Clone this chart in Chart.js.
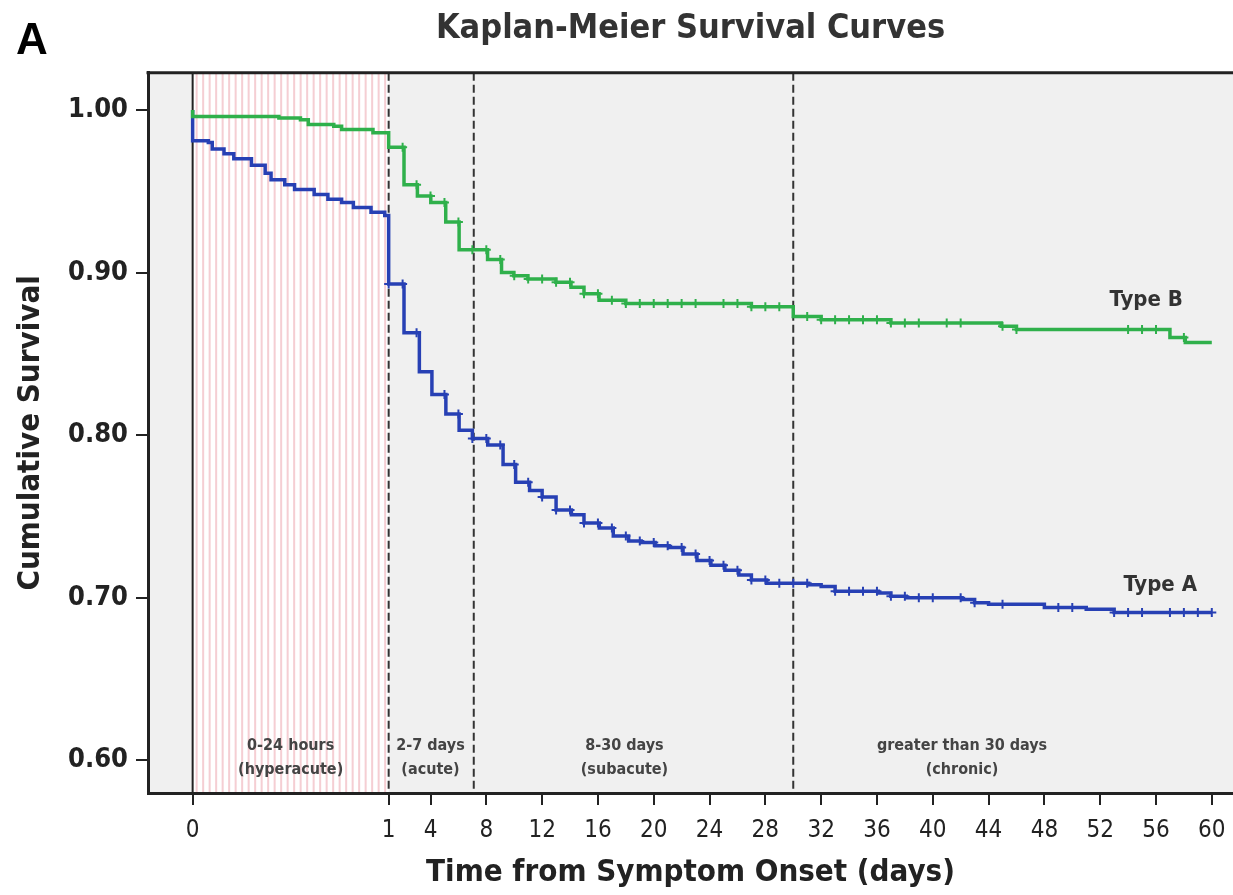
<!DOCTYPE html>
<html>
<head>
<meta charset="utf-8">
<title>Kaplan-Meier Survival Curves</title>
<script src="https://cdn.jsdelivr.net/npm/chart.js@4.4.0/dist/chart.umd.min.js"></script>
<style>
  html, body { margin: 0; padding: 0; background: #fff; }
  #wrap { width: 1233px; height: 895px; position: relative; }
</style>
</head>
<body>
<div id="wrap"><canvas id="kmChart"></canvas></div>
<script>
// Axis ticks
const tickDays = [0, 1, 4, 8, 12, 16, 20, 24, 28, 32, 36, 40, 44, 48, 52, 56, 60];
const yTicks = [0.60, 0.70, 0.80, 0.90, 1.00];

// Type B (green): step times in days and survival from that time on
const typeBTimes = [0, 0, 0.44, 0.55, 0.59, 0.72, 0.76, 0.92, 1.0,
    2.1, 3.06, 4.02, 5.09, 6.05, 8.09, 9.09, 9.97, 10.98, 12.99, 14.07, 15.0, 16.08, 18.0, 27.0,
    30.0, 32.0, 37.0, 44.9, 46.0, 57.0, 58.1, 60];
const typeBSurvival = [1.000, 0.996, 0.995, 0.994, 0.991, 0.990, 0.988, 0.986, 0.977,
    0.954, 0.947, 0.943, 0.931, 0.914, 0.908, 0.900, 0.898, 0.896, 0.894, 0.891, 0.887, 0.883, 0.881, 0.879,
    0.873, 0.871, 0.869, 0.867, 0.865, 0.860, 0.857, 0.857];
const typeBCensored = [2, 3, 4, 5, 6, 7, 8, 9, 10, 11, 12, 13, 14, 15, 16, 17, 18, 19, 20, 21, 22, 23,
    25, 26, 27, 28, 29, 31, 32, 33, 34, 35, 36, 37, 38, 39, 41, 42, 45, 46, 54, 55, 56, 58];

// Type A (blue)
const typeATimes = [0, 0, 0.08, 0.10, 0.16, 0.21, 0.30, 0.37, 0.40, 0.47, 0.52, 0.62, 0.69, 0.76, 0.82, 0.91, 0.98,
    1.0, 2.1, 3.2, 4.1, 5.1, 6.05, 7.0, 8.1, 9.2, 10.1, 11.1, 12.0, 13.0, 14.1, 15.0, 16.1, 17.1, 18.2,
    19.1, 20.1, 21.1, 22.1, 23.1, 24.1, 25.1, 26.1, 27.0, 28.1,
    31.1, 32.0, 33.0, 36.1, 37.0, 38.1, 42.1, 43.0, 44.0, 48.0, 51.0, 53.0, 60];
const typeASurvival = [1.000, 0.981, 0.980, 0.976, 0.973, 0.970, 0.966, 0.961, 0.957, 0.954, 0.951, 0.948, 0.945, 0.943, 0.940, 0.937, 0.935,
    0.893, 0.863, 0.839, 0.825, 0.813, 0.803, 0.798, 0.794, 0.782, 0.771, 0.766, 0.762, 0.754, 0.751, 0.746, 0.743, 0.738, 0.735,
    0.734, 0.732, 0.731, 0.727, 0.723, 0.720, 0.717, 0.714, 0.711, 0.709,
    0.708, 0.707, 0.704, 0.703, 0.701, 0.700, 0.699, 0.697, 0.696, 0.694, 0.693, 0.691, 0.691];
const typeACensored = [1, 2, 3, 5, 6, 7, 8, 9, 10, 11, 12, 13, 14, 15, 16, 17, 18, 19, 20, 21, 22, 23, 24, 25,
    26, 27, 28, 29, 30, 31, 33, 34, 35, 36, 37, 38, 39, 40, 42, 43, 45, 49, 50, 53, 54, 55, 57, 58, 59, 60];

// Phase boundaries (days) and their labels
const phaseBounds = [1, 7.1, 30];
const phaseLabels = [['0-24 hours', '(hyperacute)'], ['2-7 days', '(acute)'], ['8-30 days', '(subacute)'], ['greater than 30 days', '(chronic)']];

const FONT = '"Liberation Sans Narrow", "Arial Narrow", "DejaVu Sans Condensed", sans-serif';
const GREEN = '#2fb04b';
const BLUE = '#2740b4';

// First 24 hours get a stretched piece of the axis
const HYPER_WIDTH = 14.05;
function axisPos(t) {
    return t <= 1 ? t * HYPER_WIDTH : HYPER_WIDTH + (t - 1);
}

function stepPoints(times, surv) {
    return times.map((t, i) => ({ x: axisPos(t), y: surv[i] }));
}

// survival at a censoring time
function survivalAt(times, surv, t) {
    let s = surv[0];
    for (let i = 0; i < times.length; i++) {
        if (times[i] <= t) s = surv[i];
    }
    return s;
}

function censorPoints(censored, times, surv) {
    return censored.map(t => ({ x: axisPos(t), y: survivalAt(times, surv, t) }));
}

const phasePlugin = {
    id: 'phases',
    beforeDraw(chart) {
        const { ctx, chartArea: a, scales: { x } } = chart;
        ctx.save();
        ctx.fillStyle = '#f0f0f0';
        ctx.fillRect(a.left, a.top, a.right - a.left, a.bottom - a.top);

        // striped hyperacute band
        const x0 = x.getPixelForValue(axisPos(0));
        const x1 = x.getPixelForValue(axisPos(1));
        ctx.fillStyle = '#fff';
        ctx.fillRect(x0, a.top, x1 - x0, a.bottom - a.top);
        ctx.strokeStyle = 'rgba(230, 125, 140, 0.38)';
        ctx.lineWidth = 2;
        for (let px = x0 + 4; px < x1 - 1; px += 6.5) {
            ctx.beginPath();
            ctx.moveTo(px, a.top);
            ctx.lineTo(px, a.bottom);
            ctx.stroke();
        }
        ctx.restore();
    },
    beforeDatasetsDraw(chart) {
        const { ctx, chartArea: a, scales: { x } } = chart;
        ctx.save();

        // solid line at onset
        ctx.strokeStyle = '#222';
        ctx.lineWidth = 2;
        const x0 = x.getPixelForValue(axisPos(0));
        ctx.beginPath();
        ctx.moveTo(x0, a.top);
        ctx.lineTo(x0, a.bottom);
        ctx.stroke();

        // dashed phase boundaries
        ctx.strokeStyle = '#333';
        ctx.setLineDash([8, 4]);
        phaseBounds.forEach(d => {
            const px = x.getPixelForValue(axisPos(d));
            ctx.beginPath();
            ctx.moveTo(px, a.top);
            ctx.lineTo(px, a.bottom);
            ctx.stroke();
        });
        ctx.setLineDash([]);

        // top frame
        ctx.strokeStyle = '#222';
        ctx.lineWidth = 3;
        ctx.beginPath();
        ctx.moveTo(a.left - 1.5, a.top);
        ctx.lineTo(a.right, a.top);
        ctx.stroke();

        // phase labels
        const centres = [0.5, 4, 17.9, 42.1];
        ctx.fillStyle = '#444';
        ctx.font = 'bold 16px ' + FONT;
        ctx.textAlign = 'center';
        ctx.textBaseline = 'middle';
        phaseLabels.forEach((lines, i) => {
            const px = x.getPixelForValue(axisPos(centres[i]));
            ctx.fillText(lines[0], px, a.bottom - 47);
            ctx.fillText(lines[1], px, a.bottom - 23);
        });
        ctx.restore();
    },
    afterDatasetsDraw(chart) {
        const { ctx, scales: { x, y } } = chart;
        ctx.save();
        ctx.fillStyle = '#333';
        ctx.font = 'bold 22px ' + FONT;
        ctx.textAlign = 'center';
        ctx.textBaseline = 'middle';
        ctx.fillText('Type B', x.getPixelForValue(axisPos(55.3)), y.getPixelForValue(0.883));
        ctx.fillText('Type A', x.getPixelForValue(axisPos(56.3)), y.getPixelForValue(0.708));

        ctx.fillStyle = '#000';
        ctx.font = 'bold 44px "Liberation Sans", Arial, sans-serif';
        ctx.textAlign = 'left';
        ctx.textBaseline = 'alphabetic';
        ctx.fillText('A', 16, 54);
        ctx.restore();
    }
};

const ctx = document.getElementById('kmChart').getContext('2d');
new Chart(ctx, {
    type: 'line',
    data: {
        datasets: [
            {
                label: 'Type B',
                data: stepPoints(typeBTimes, typeBSurvival),
                borderColor: GREEN,
                borderWidth: 3.5,
                stepped: 'before',
                pointRadius: 0,
                fill: false
            },
            {
                label: 'Type A',
                data: stepPoints(typeATimes, typeASurvival),
                borderColor: BLUE,
                borderWidth: 3.5,
                stepped: 'before',
                pointRadius: 0,
                fill: false
            },
            {
                label: 'Type B censored',
                data: censorPoints(typeBCensored, typeBTimes, typeBSurvival),
                showLine: false,
                pointStyle: 'cross',
                pointRadius: 4.5,
                pointBorderWidth: 2,
                pointBorderColor: GREEN
            },
            {
                label: 'Type A censored',
                data: censorPoints(typeACensored, typeATimes, typeASurvival),
                showLine: false,
                pointStyle: 'cross',
                pointRadius: 4.5,
                pointBorderWidth: 2,
                pointBorderColor: BLUE
            }
        ]
    },
    options: {
        responsive: true,
        maintainAspectRatio: false,
        animation: false,
        layout: { autoPadding: false, padding: { left: 0, right: 0, top: 0, bottom: 0 } },
        plugins: {
            legend: { display: false },
            tooltip: { enabled: false },
            title: {
                display: true,
                fullSize: false,
                text: 'Kaplan-Meier Survival Curves',
                color: '#333',
                font: { family: FONT, size: 34, weight: 'bold' },
                padding: { top: 9, bottom: 23 }
            }
        },
        scales: {
            x: {
                type: 'linear',
                min: -3.2,
                max: 74.57,
                afterFit: scale => {
                    scale.height = 102;
                    scale.paddingLeft = 0;
                    scale.paddingRight = 0;
                },
                afterBuildTicks: scale => {
                    scale.ticks = tickDays.map(d => ({ value: axisPos(d) }));
                },
                ticks: {
                    autoSkip: false,
                    maxRotation: 0,
                    padding: 11,
                    color: '#222',
                    font: { family: FONT, size: 24 },
                    callback: (value, index) => tickDays[index]
                },
                grid: { drawOnChartArea: false, drawTicks: true, tickLength: 12, color: '#222', lineWidth: 2 },
                border: { display: true, color: '#222', width: 3 },
                title: {
                    display: true,
                    text: 'Time from Symptom Onset (days)',
                    color: '#222',
                    font: { family: FONT, size: 31, weight: 'bold' },
                    padding: { top: 0, bottom: 3 }
                }
            },
            y: {
                type: 'linear',
                min: 0.58,
                max: 1.0228,
                afterFit: scale => { scale.width = 148; },
                afterBuildTicks: scale => {
                    scale.ticks = yTicks.map(v => ({ value: v }));
                },
                ticks: {
                    padding: 8,
                    color: '#222',
                    font: { family: FONT, size: 27, weight: 'bold' },
                    callback: value => value.toFixed(2)
                },
                grid: { drawOnChartArea: false, drawTicks: true, tickLength: 12, color: '#222', lineWidth: 2 },
                border: { display: true, color: '#222', width: 3 },
                title: {
                    display: true,
                    text: 'Cumulative Survival',
                    color: '#222',
                    font: { family: FONT, size: 31, weight: 'bold' },
                    padding: { top: 12, bottom: 0 }
                }
            }
        }
    },
    plugins: [phasePlugin]
});
</script>
</body>
</html>
